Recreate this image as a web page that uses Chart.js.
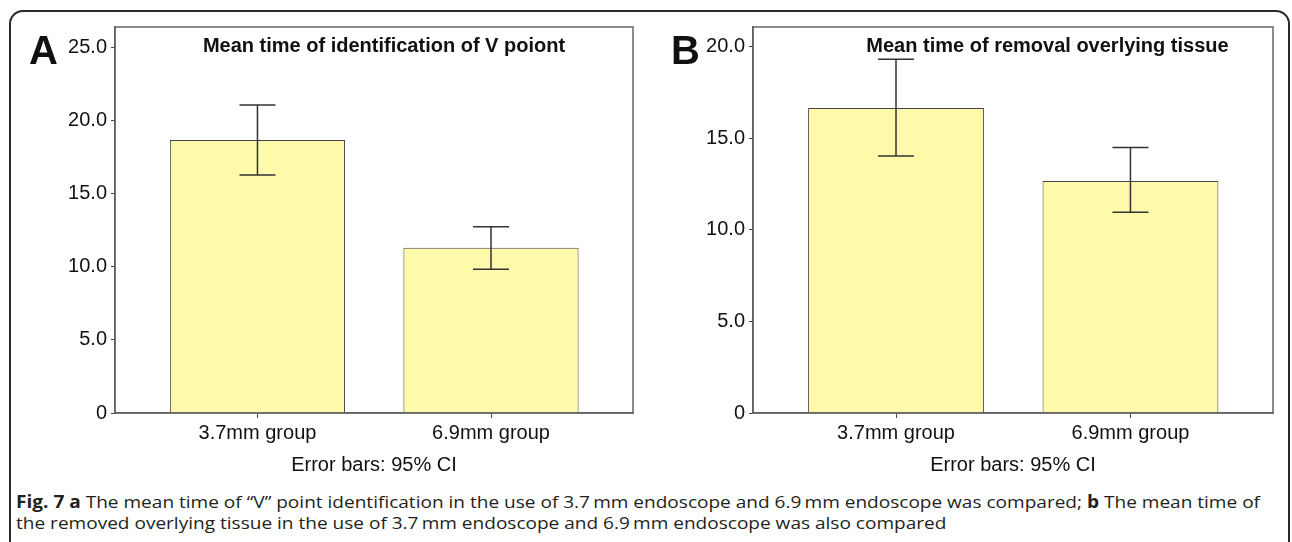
<!DOCTYPE html>
<html><head><meta charset="utf-8">
<script src="https://cdn.jsdelivr.net/npm/chart.js@4.4.1/dist/chart.umd.min.js"></script>
<style>
html,body{margin:0;padding:0;background:#fff;width:1292px;height:542px;overflow:hidden;position:relative;font-family:"Liberation Sans",Arial,sans-serif}
#frame{position:absolute;left:9px;top:10px;width:1281px;height:620px;border:2px solid #2a2a2a;border-radius:14px;box-sizing:border-box}
.pan{position:absolute;top:0;height:480px}
#pa{left:0;width:645px}
#pb{left:645px;width:647px}
.cap{position:absolute;left:16px;font-family:"Open Sans",sans-serif;font-size:17px;line-height:20px;color:#231f20;white-space:nowrap;transform-origin:0 0}
</style></head><body>
<div id="frame"></div>
<div class="pan" id="pa"><canvas id="ca"></canvas></div>
<div class="pan" id="pb"><canvas id="cb"></canvas></div>
<div class="cap" id="cap1" style="top:492px"><b>Fig. 7</b> <b>a</b> The mean time of “V” point identification in the use of 3.7&#8201;mm endoscope and 6.9&#8201;mm endoscope was compared; <b>b</b> The mean time of</div>
<div class="cap" id="cap2" style="top:513px">the removed overlying tissue in the use of 3.7&#8201;mm endoscope and 6.9&#8201;mm endoscope was also compared</div>
<script>
const categories = ['3.7mm group', '6.9mm group'];
const meanA = [18.65, 11.29];
const ciLowA = [16.26, 9.82];
const ciHighA = [21.04, 12.73];
const meanB = [16.67, 12.68];
const ciLowB = [14.04, 10.97];
const ciHighB = [19.33, 14.50];
const yTicksA = [0, 5, 10, 15, 20, 25];
const yTicksB = [0, 5, 10, 15, 20];
const titleA = 'Mean time of identification of V poiont';
const titleB = 'Mean time of removal overlying tissue';
const xAxisTitle = 'Error bars: 95% CI';

const FONT = '"Liberation Sans", Arial, sans-serif';

const overlay = {
  id: 'overlay',
  afterDatasetsDraw(chart, args, o) {
    const ctx = chart.ctx, xs = chart.scales.x, ys = chart.scales.y, a = chart.chartArea;
    ctx.save();
    ctx.strokeStyle = '#333'; ctx.lineWidth = 1.5;
    o.lo.forEach((lo, i) => {
      const px = xs.getPixelForValue(i + 1);
      const yl = ys.getPixelForValue(lo), yh = ys.getPixelForValue(o.hi[i]);
      ctx.beginPath();
      ctx.moveTo(px, yl); ctx.lineTo(px, yh);
      ctx.moveTo(px - 18, yl); ctx.lineTo(px + 18, yl);
      ctx.moveTo(px - 18, yh); ctx.lineTo(px + 18, yh);
      ctx.stroke();
    });
    ctx.strokeStyle = '#666'; ctx.lineWidth = 1.5;
    ctx.strokeRect(a.left, a.top, a.right - a.left, a.bottom - a.top);
    ctx.fillStyle = '#111';
    ctx.font = 'bold 20px ' + FONT;
    ctx.textAlign = 'center'; ctx.textBaseline = 'alphabetic';
    ctx.fillText(o.title, o.titleX, 52);
    ctx.font = 'bold 40px ' + FONT;
    ctx.textAlign = 'left';
    ctx.fillText(o.letter, o.letterX, 64);
    ctx.restore();
  }
};

function makePanel(id, mean, lo, hi, yTicks, yMax, title, letter, leftW, rightPad, titleX, letterX) {
  return new Chart(document.getElementById(id), {
    type: 'bar',
    data: {
      datasets: [{
        data: categories.map((c, i) => ({ x: i + 1, y: mean[i] })),
        backgroundColor: '#FFFAAA',
        borderColor: '#444',
        borderWidth: 1,
        barPercentage: 0.75,
        categoryPercentage: 1
      }]
    },
    options: {
      responsive: true, maintainAspectRatio: false, animation: false,
      layout: { padding: { top: 27, right: rightPad, left: 0, bottom: 0 } },
      plugins: {
        legend: { display: false }, tooltip: { enabled: false },
        overlay: { lo, hi, title, letter, titleX, letterX }
      },
      scales: {
        x: {
          type: 'linear', min: 0.39, max: 2.608, offset: false,
          afterBuildTicks: s => { s.ticks = categories.map((c, i) => ({ value: i + 1 })); },
          afterFit: s => { s.height = 67; },
          ticks: {
            callback: v => categories[v - 1] ?? '',
            font: { family: FONT, size: 20 }, color: '#111', padding: 3,
            maxRotation: 0, autoSkip: false
          },
          grid: { display: true, offset: false, drawOnChartArea: false, drawTicks: true, tickLength: 5, color: '#444' },
          border: { color: '#555', width: 1.5 },
          title: { display: true, text: xAxisTitle, font: { family: FONT, size: 20 }, color: '#111', padding: { top: 4, bottom: 3 } }
        },
        y: {
          min: 0, max: yMax,
          afterBuildTicks: s => { s.ticks = yTicks.map(v => ({ value: v })); },
          afterFit: s => { s.width = leftW; },
          ticks: {
            callback: v => v === 0 ? '0' : v.toFixed(1),
            font: { family: FONT, size: 20 }, color: '#111', padding: 4
          },
          grid: { drawOnChartArea: false, drawTicks: true, tickLength: 4, color: '#444' },
          border: { color: '#555', width: 1.5 }
        }
      }
    },
    plugins: [overlay]
  });
}

makePanel('ca', meanA, ciLowA, ciHighA, yTicksA, 26.37, titleA, 'A', 115, 12, 384, 29);
makePanel('cb', meanB, ciLowB, ciHighB, yTicksB, 21.09, titleB, 'B', 108, 19, 402.5, 26);

function fitCaption() {
  const c1 = document.getElementById('cap1'), c2 = document.getElementById('cap2');
  c1.style.transform = c2.style.transform = 'none';
  const w = c1.getBoundingClientRect().width;
  const k = 1244 / w;
  c1.style.transform = c2.style.transform = 'scaleX(' + k + ')';
}
fitCaption();
if (document.fonts && document.fonts.ready) document.fonts.ready.then(fitCaption);
</script>
</body></html>
